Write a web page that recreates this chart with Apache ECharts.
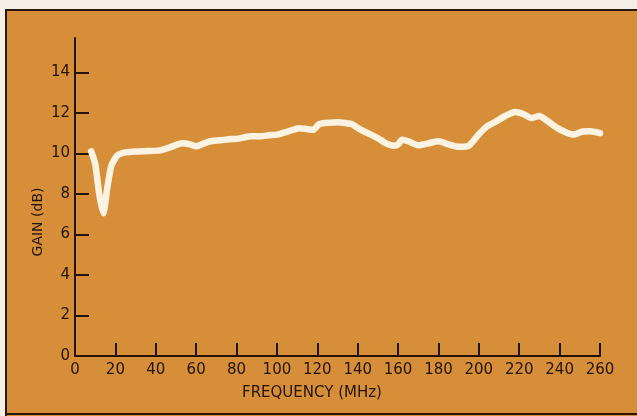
<!DOCTYPE html>
<html>
<head>
<meta charset="utf-8">
<script src="https://cdn.jsdelivr.net/npm/echarts@6/dist/echarts.min.js"></script>
<style>
  html, body { margin: 0; padding: 0; width: 637px; height: 416px; background: #d68f38; overflow: hidden; }
  #strip-top { position: absolute; left: 0; top: 0; width: 637px; height: 9px; background: #f4f0e6; }
  #strip-left { position: absolute; left: 0; top: 0; width: 5px; height: 416px; background: #f4f0e6; }
  #edge-top { position: absolute; left: 5px; top: 9px; width: 632px; height: 2px; background: #2a170c; }
  #edge-left { position: absolute; left: 5px; top: 9px; width: 2px; height: 407px; background: #2a170c; }
  #edge-bottom { position: absolute; left: 5px; top: 413px; width: 632px; height: 2px; background: #2a170c; }
  #gain { position: absolute; left: 0; top: 0; width: 637px; height: 416px; }
</style>
</head>
<body>
<div id="strip-top"></div>
<div id="strip-left"></div>
<div id="edge-top"></div>
<div id="edge-left"></div>
<div id="edge-bottom"></div>
<div id="gain"></div>
<script>
// gain vs frequency
var freq = [8, 10, 12, 14, 16, 18, 21, 25, 30, 36, 42, 47, 53, 57, 60, 64, 67, 72, 76, 80,
            84, 87, 92, 96, 100, 106, 111, 115, 118, 121, 126, 130, 134, 137, 141, 145, 150, 154, 158, 160,
            162, 165, 170, 175, 180, 185, 190, 195, 200, 204, 208, 213, 218, 222, 226, 230, 234, 239, 243, 247,
            251, 255, 260];
var gain = [10.1, 9.5, 8.0, 7.05, 8.3, 9.4, 9.9, 10.05, 10.1, 10.12, 10.15, 10.3, 10.5, 10.45, 10.35, 10.5, 10.6, 10.65, 10.7, 10.72,
            10.8, 10.85, 10.85, 10.9, 10.93, 11.1, 11.25, 11.2, 11.17, 11.45, 11.52, 11.54, 11.5, 11.45, 11.2, 11.0, 10.75, 10.5, 10.38, 10.45,
            10.68, 10.6, 10.4, 10.5, 10.6, 10.45, 10.33, 10.38, 10.95, 11.33, 11.55, 11.85, 12.05, 11.95, 11.75, 11.85, 11.6, 11.25, 11.05, 10.93,
            11.07, 11.09, 11.0];
var yTicks = [0, 2, 4, 6, 8, 10, 12, 14];
var xTicks = [0, 20, 40, 60, 80, 100, 120, 140, 160, 180, 200, 220, 240, 260];

var ink = '#24130a';
var chart = echarts.init(document.getElementById('gain'));

var pts = [];
for (var i = 0; i < freq.length; i++) {
    pts.push([freq[i], gain[i]]);
}

chart.setOption({
    animation: false,
    backgroundColor: 'transparent',
    textStyle: { fontFamily: 'DejaVu Sans' },
    grid: { left: 75, right: 37, top: 38, bottom: 60 },
    xAxis: {
        type: 'value',
        min: 0, max: 260,
        axisLine: { lineStyle: { color: ink, width: 2 } },
        axisTick: { inside: true, length: 13, lineStyle: { color: ink, width: 2 }, customValues: xTicks },
        axisLabel: { color: ink, fontSize: 15, margin: 7, customValues: xTicks },
        splitLine: { show: false }
    },
    yAxis: {
        type: 'value',
        min: 0, max: 15.7,
        axisLine: { show: true, lineStyle: { color: ink, width: 2 } },
        axisTick: { show: true, inside: true, length: 14, lineStyle: { color: ink, width: 2 }, customValues: yTicks },
        axisLabel: { color: ink, fontSize: 15, margin: 5, customValues: yTicks },
        splitLine: { show: false }
    },
    graphic: [{
        type: 'text',
        x: 38, y: 222,
        rotation: Math.PI / 2,
        style: {
            text: 'GAIN (dB)', fill: ink, font: '14px "DejaVu Sans"',
            align: 'center', verticalAlign: 'middle'
        }
    }, {
        type: 'text',
        x: 312, y: 393,
        style: {
            text: 'FREQUENCY (MHz)', fill: ink, font: '15px "DejaVu Sans"',
            align: 'center', verticalAlign: 'middle'
        }
    }],
    series: [{
        name: 'GAIN',
        type: 'line',
        data: pts,
        smooth: 0.2,
        showSymbol: false,
        lineStyle: { color: '#fbf3e2', width: 6.5, cap: 'round', join: 'round' }
    }]
});
</script>
</body>
</html>
